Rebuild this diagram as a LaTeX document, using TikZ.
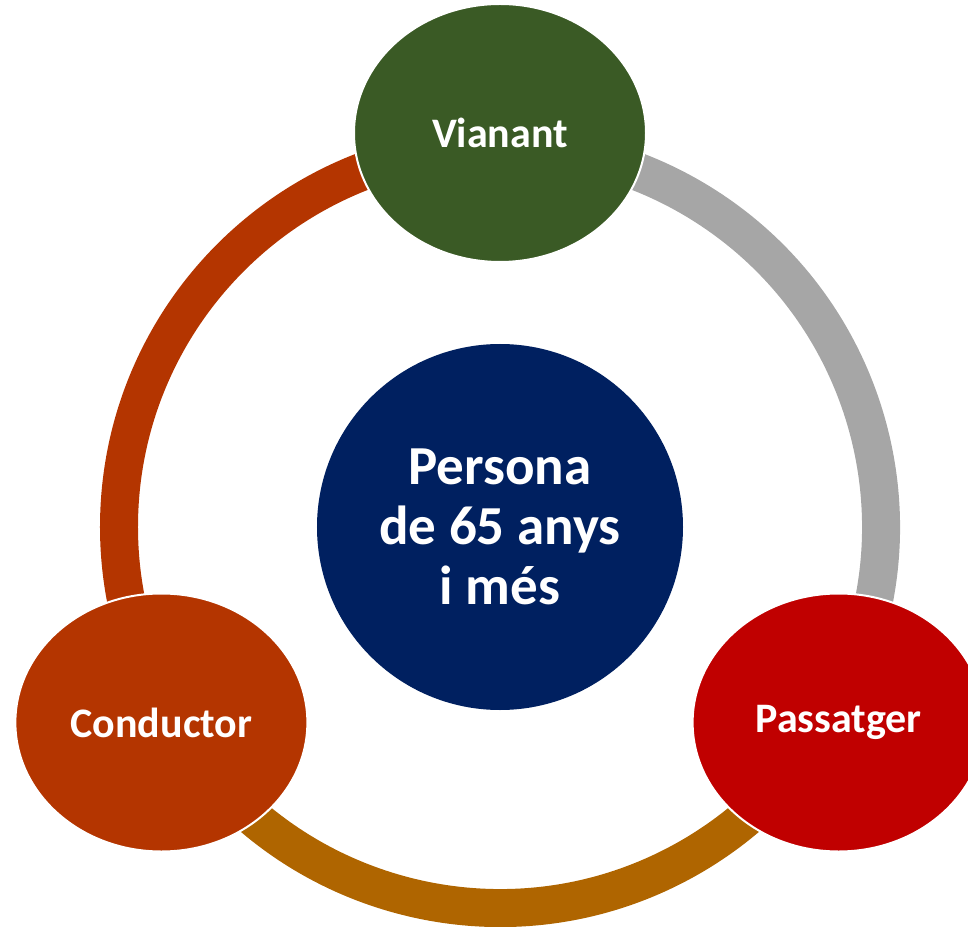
\documentclass[tikz,border=0pt]{standalone}
\usepackage{fontspec}
\setmainfont{Carlito}
\usetikzlibrary{shapes.geometric}
\definecolor{vgreen}{HTML}{3A5A25}
\definecolor{crust}{HTML}{B43500}
\definecolor{pred}{HTML}{C00000}
\definecolor{navy}{HTML}{002060}
\definecolor{ringgrey}{HTML}{A6A6A6}
\definecolor{ringbrown}{HTML}{AF6500}
\tikzset{
  role/.style={ellipse, draw=white, line width=2pt, minimum width=292pt, minimum height=258pt,
    text=white, font=\fontsize{42}{46}\selectfont\bfseries},
  ring/.style={line width=38pt}
}

\begin{document}
\begin{tikzpicture}[x=1pt,y=1pt]
\useasboundingbox (-500,-399) rectangle (468,527);
\coordinate (o) at (0,0);
% the three pieces of the ring
\draw[ring, crust] (o) ++(90:381) arc[start angle=90, end angle=210, radius=381];
\draw[ring, ringbrown] (o) ++(210:381) arc[start angle=210, end angle=330, radius=381];
\draw[ring, ringgrey] (o) ++(-30:381) arc[start angle=-30, end angle=90, radius=381];
% roles
\node[role, fill=vgreen] (vianant) at (90:394) {Vianant};
\node[role, fill=crust] (conductor) at (210:391) {Conductor};
\node[role, fill=pred] (passatger) at (-30:391) {Passatger};
% centre
\node[circle, fill=navy, minimum size=366pt, align=center, text=white,
  font=\fontsize{55}{60}\selectfont\bfseries] (persona) at (o) {Persona\\de 65 anys\\i més};
\end{tikzpicture}
\end{document}
